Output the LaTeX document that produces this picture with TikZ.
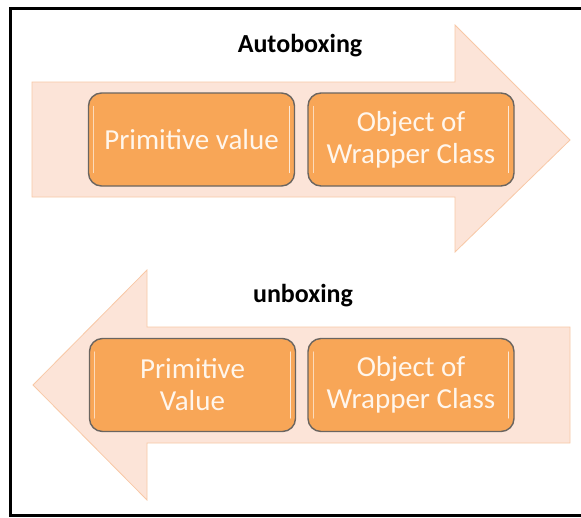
\documentclass[tikz,border=0pt]{standalone}
\usepackage{fontspec}
\setmainfont{Carlito}
\begin{document}
\begin{tikzpicture}[x=1pt,y=-1pt,
  arrowshape/.style={fill=peach,draw=peachline,line width=0.8pt},
  box/.style={draw=boxline,line width=1.4pt,fill=boxfill,rounded corners=13pt,
    minimum width=206pt,minimum height=93pt,inner sep=0pt,
    text=boxtext,align=center,font=\fontsize{29}{32}\selectfont},
  title/.style={font=\bfseries\fontsize{26}{30}\selectfont,text=black}]
\definecolor{peach}{HTML}{FCE4D8}
\definecolor{peachline}{HTML}{F8C8A6}
\definecolor{boxfill}{HTML}{F8A657}
\definecolor{boxline}{HTML}{6B6560}
\definecolor{boxtext}{HTML}{FFF6EC}
\useasboundingbox (0,0) rectangle (581,517);
\fill[white] (0,0) rectangle (581,517);
% frame
\draw[line width=3pt] (582,8) -- (10,8) -- (10,515) -- (582,515);
% top arrow (right)
\draw[arrowshape] (32,82) -- (455,82) -- (455,25) -- (570,140) -- (455,252) -- (455,197) -- (32,197) -- cycle;
% bottom arrow (left)
\draw[arrowshape] (570,327) -- (147,327) -- (147,270) -- (33,385) -- (147,500) -- (147,443) -- (570,443) -- cycle;
% titles
\node[title] (t1) at (300,46) {Autoboxing};
\node[title] (t2) at (303,296) {unboxing};
% boxes
\node[box] (a1) at (191.5,139.5) {Primitive value};
\node[box] (a2) at (411,139.5) {Object of\\Wrapper Class};
\node[box] (b1) at (192.5,385) {Primitive\\Value};
\node[box] (b2) at (411,385) {Object of\\Wrapper Class};
% highlights
\foreach \n in {a1,a2,b1,b2}{
  \draw[white,opacity=0.75,line width=1pt,line cap=round]
    ([xshift=-6pt,yshift=-14pt]\n.north east) -- ([xshift=-6pt,yshift=14pt]\n.south east);
  \draw[white,opacity=0.6,line width=1pt,line cap=round]
    ([xshift=6pt,yshift=-14pt]\n.north west) -- ([xshift=6pt,yshift=14pt]\n.south west);
}
\end{tikzpicture}
\end{document}
